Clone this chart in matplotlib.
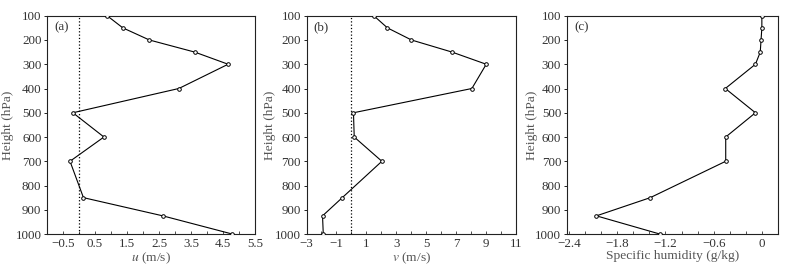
import matplotlib
matplotlib.use("Agg")
import matplotlib.pyplot as plt
from matplotlib.ticker import MultipleLocator

plt.rcParams['font.family'] = ['Liberation Serif', 'DejaVu Serif']
plt.rcParams['mathtext.fontset'] = 'stix'

levels = [100, 150, 200, 250, 300, 400, 500, 600, 700, 850, 925, 1000]
u_wind = [0.88, 1.37, 2.20, 3.62, 4.66, 3.12, -0.19, 0.78, -0.28, 0.14, 2.62, 4.79]
v_wind = [1.50, 2.41, 4.02, 6.74, 9.02, 8.06, 0.14, 0.19, 2.04, -0.61, -1.93, -1.88]
q_anom = [0.0, 0.0, -0.01, -0.02, -0.08, -0.455, -0.08, -0.45, -0.45, -1.39, -2.06, -1.27]

u_ticks = [-0.5, 0.5, 1.5, 2.5, 3.5, 4.5, 5.5]
v_ticks = [-3, -1, 1, 3, 5, 7, 9, 11]
q_ticks = [-2.4, -1.8, -1.2, -0.6, 0]
q_tick_labels = ['\u22122.4', '\u22121.8', '\u22121.2', '\u22120.6', '0']
y_ticks = [100, 200, 300, 400, 500, 600, 700, 800, 900, 1000]

fig = plt.figure(figsize=(7.88, 2.76), dpi=100)
txt = '#333333'
lab = '#555555'
fs = 9.4

panels = [
    dict(pos=[0.0596, 0.152, 0.264, 0.791], x=u_wind, xlim=(-1.0, 5.5), ticks=u_ticks,
         labels=None, minor=0.5, xlabel=r'$\mathit{u}$ (m/s)', tag='(a)', zero=True, ylx=-0.16),
    dict(pos=[0.389, 0.152, 0.2656, 0.791], x=v_wind, xlim=(-3, 11), ticks=v_ticks,
         labels=None, minor=1, xlabel=r'$\mathit{v}$ (m/s)', tag='(b)', zero=True, ylx=-0.145),
    dict(pos=[0.7192, 0.152, 0.268, 0.791], x=q_anom, xlim=(-2.43, 0.2), ticks=q_ticks,
         labels=q_tick_labels, minor=0.2, xlabel='Specific humidity (g/kg)', tag='(c)', zero=False,
         ylx=-0.135),
]

for p in panels:
    ax = fig.add_axes(p['pos'])
    ax.plot(p['x'], levels, color='black', lw=0.8, marker='o', ms=2.6,
            mfc='white', mec='black', mew=0.7, zorder=3)
    if p['zero']:
        ax.axvline(0, color='black', ls=':', lw=0.9, zorder=2)
    ax.set_xlim(*p['xlim'])
    ax.set_ylim(1000, 100)
    ax.set_yticks(y_ticks)
    ax.set_xticks(p['ticks'])
    if p['labels'] is not None:
        ax.set_xticklabels(p['labels'])
    else:
        ax.set_xticklabels([('\u2212' + f'{abs(t):g}') if t < 0 else f'{t:g}' for t in p['ticks']])
    ax.xaxis.set_minor_locator(MultipleLocator(p['minor']))
    ax.tick_params(axis='x', which='both', direction='in', length=2.5, width=0.6,
                   labelsize=fs, labelcolor=txt, pad=3, colors='#333333')
    ax.tick_params(axis='y', direction='out', length=2.5, width=0.6, labelsize=fs,
                   labelcolor=txt, pad=1.5)
    ax.set_ylabel('Height (hPa)', fontsize=fs + 0.3, color=lab)
    ax.yaxis.set_label_coords(p['ylx'], 0.5)
    ax.set_xlabel(p['xlabel'], fontsize=fs + 0.3, color=lab, labelpad=0)
    ax.text(0.035, 0.975, p['tag'], transform=ax.transAxes, fontsize=fs,
            color=txt, va='top', ha='left')
    for s in ax.spines.values():
        s.set_linewidth(0.8)
        s.set_color('#222222')

fig.savefig('out.png', dpi=100)
